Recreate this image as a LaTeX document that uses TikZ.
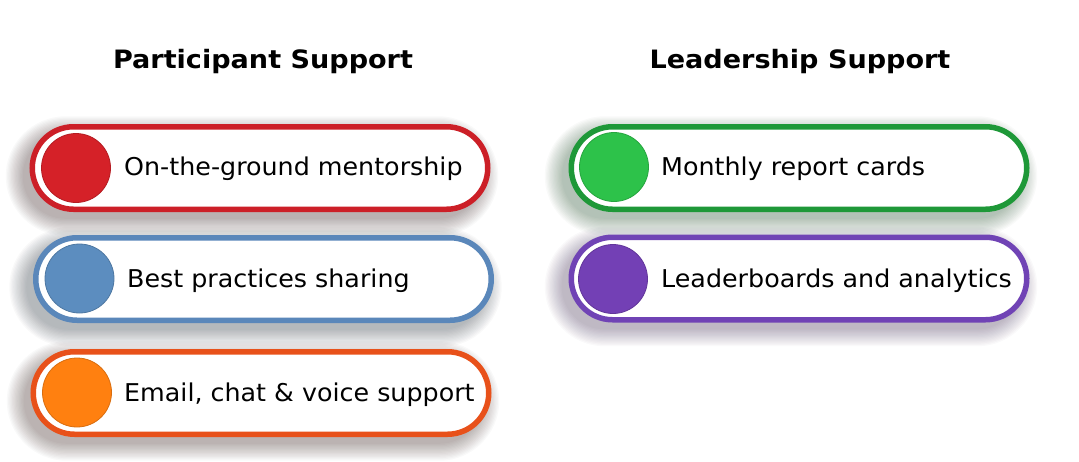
\documentclass[tikz,border=0pt]{standalone}
\usepackage{fontspec}
\setmainfont{DejaVu Sans}[FakeStretch=1.035]
\newfontfamily\titlefont{DejaVu Sans}[FakeStretch=1.07]
\definecolor{redrim}{HTML}{CC1F27}
\definecolor{reddot}{HTML}{D52128}
\definecolor{bluerim}{HTML}{5A87BA}
\definecolor{bluedot}{HTML}{5C8DBF}
\definecolor{orangerim}{HTML}{E8511A}
\definecolor{orangedot}{HTML}{FF8010}
\definecolor{greenrim}{HTML}{1E9838}
\definecolor{greendot}{HTML}{2DC24A}
\definecolor{purplerim}{HTML}{7043B5}
\definecolor{purpledot}{HTML}{7340B5}
\newcommand\pillshadow[3]{%
  \foreach \k in {1,...,14}{%
    \pgfmathsetmacro\rr{41.5+\k*1.3}%
    \fill[#3, opacity=0.022, rounded corners=\rr pt]
      ({#1-228-\k*1.3-8},{#2-41.5-\k*1.3+8}) rectangle ({#1+228+\k*1.3-8},{#2+41.5+\k*1.3+8});
  }%
}
\begin{document}
\begin{tikzpicture}[x=1pt,y=-1pt,
  pill/.style={draw=#1, line width=5.5pt, fill=white, minimum width=455.5pt,
    minimum height=82.5pt, rounded corners=41.25pt, inner sep=0pt},
  dot/.style={circle, fill=#1, draw=#1!85!black, line width=0.8pt,
    minimum size=69pt, inner sep=0pt},
  itemtext/.style={anchor=base west, inner sep=0pt, font=\fontsize{24.5}{28}\selectfont},
  headtext/.style={anchor=base, inner sep=0pt, font=\titlefont\bfseries\fontsize{25.3}{30}\selectfont}
]
\useasboundingbox[fill=white] (0,0) rectangle (1079,461);

% shadows
\pillshadow{260}{168}{redrim!15!black}
\pillshadow{263.5}{279}{bluerim!20!black}
\pillshadow{261}{393}{orangerim!15!black}
\pillshadow{799}{168}{greenrim!40!black}
\pillshadow{799}{278.5}{purplerim!40!black}

% titles
\node[headtext] (t1) at (263,68) {Participant Support};
\node[headtext] (t2) at (800,68) {Leadership Support};

% left column
\node[pill=redrim] (p1) at (260,168) {};
\node[dot=reddot] (c1) at (76,168) {};
\node[itemtext] (x1) at (124,175) {On-the-ground mentorship};

\node[pill=bluerim] (p2) at (263.5,279) {};
\node[dot=bluedot] (c2) at (79.5,278.5) {};
\node[itemtext] (x2) at (127,287) {Best practices sharing};

\node[pill=orangerim] (p3) at (261,393) {};
\node[dot=orangedot] (c3) at (77,392.5) {};
\node[itemtext] (x3) at (124,401) {Email, chat \& voice support};

% right column
\node[pill=greenrim] (p4) at (799,168) {};
\node[dot=greendot] (c4) at (614,167) {};
\node[itemtext] (x4) at (661,175) {Monthly report cards};

\node[pill=purplerim] (p5) at (799,278.5) {};
\node[dot=purpledot] (c5) at (613,279) {};
\node[itemtext] (x5) at (661,287) {Leaderboards and analytics};
\end{tikzpicture}
\end{document}
